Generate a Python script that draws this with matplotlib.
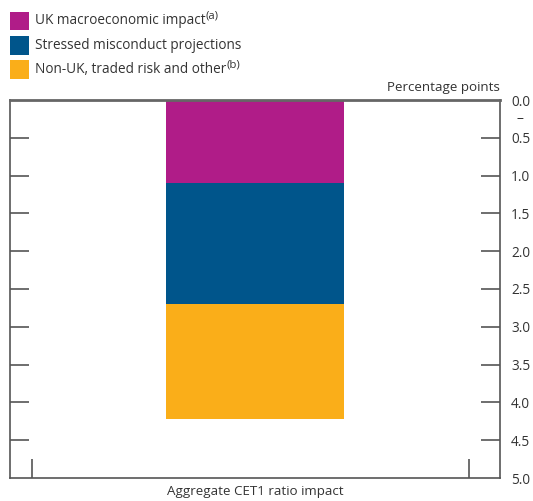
import matplotlib
matplotlib.use("Agg")
import matplotlib.pyplot as plt
from matplotlib.patches import Rectangle

plt.rcParams['font.family'] = ['Open Sans', 'DejaVu Sans']

# Data
category = "Aggregate CET1 ratio impact"
components = ["UK macroeconomic impact",
              "Stressed misconduct projections",
              "Non-UK, traded risk and other"]
notes = ["(a)", "", "(b)"]
values = [1.10, 1.60, 1.52]
colours = ["#B01C88", "#00558B", "#FAAE19"]
y_ticks = [0.0, 0.5, 1.0, 1.5, 2.0, 2.5, 3.0, 3.5, 4.0, 4.5, 5.0]

spine_col = "#555555"
txt_col = "#333333"
W, H = 533, 501

fig = plt.figure(figsize=(W/100, H/100), dpi=100)
ax = fig.add_axes([10/W, 23/H, 490/W, 378/H])

bottom = 0
for lab, v, c in zip(components, values, colours):
	ax.bar(0.51, v, width=0.407, bottom=bottom, color=c, label=lab)
	bottom += v

ax.set_xlim(-0.0503, 1.071)
ax.set_ylim(5.0, 0.0)

#	Ticks on both sides, labels on right
ax.yaxis.tick_right()
ax.set_yticks(y_ticks)
ax.set_yticklabels(["%.1f" % t for t in y_ticks])
ax.tick_params(axis="y", which="both", direction="in", length=14, width=1.2,
	color=spine_col, labelcolor=txt_col, labelsize=9.8, left=True, right=True, pad=8)
for t in ax.yaxis.get_major_ticks():
	if t.get_loc() in (0.0, 5.0):
		t.tick1line.set_visible(False)
		t.tick2line.set_visible(False)

ax.set_xticks([0, 1])
ax.set_xticklabels(["", ""])
ax.tick_params(axis="x", direction="in", length=14, width=1.2, color=spine_col)

for s in ax.spines.values():
	s.set_color(spine_col)
	s.set_linewidth(1.2)
ax.spines["top"].set_linewidth(2)
ax.spines["top"].set_color("#666666")

ax.text(1.0, 1.015, "Percentage points", transform=ax.transAxes, ha="right", va="bottom",
	fontsize=9.6, color=txt_col)
ax.text(1.04, 0.25, "–", transform=ax.get_yaxis_transform(), ha="center", va="center",
	fontsize=10, color=txt_col, clip_on=False)
fig.text(255/W, 1 - 491/H, category, ha="center", va="center", fontsize=9.6, color=txt_col)

#	Legend, drawn by hand
for i, (lab, note, c) in enumerate(zip(components, notes, colours)):
	yc = 21 + 24.3 * i
	fig.add_artist(Rectangle((10/W, 1 - (yc + 9.3)/H), 19/W, 18.6/H,
		transform=fig.transFigure, color=c, lw=0))
	t = fig.text(35/W, 1 - yc/H, lab, ha="left", va="center", fontsize=9.8, color=txt_col)
	if note:
		ax.annotate(note, xy=(1, 0.45), xycoords=t, xytext=(0, 0), textcoords="offset points",
			ha="left", va="bottom", fontsize=8.2, color=txt_col, annotation_clip=False)

fig.savefig("out.png", dpi=100)
